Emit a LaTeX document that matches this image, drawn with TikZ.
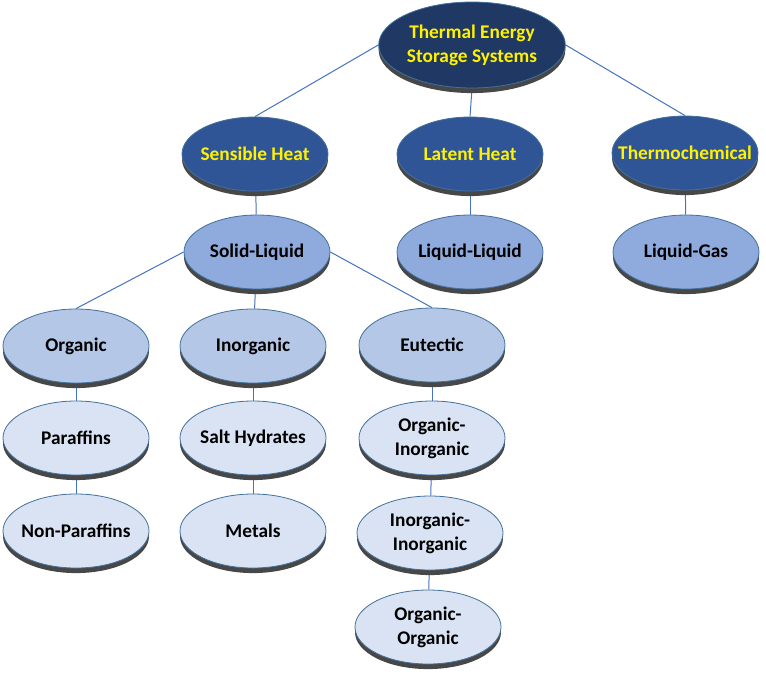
\documentclass[tikz,border=0pt]{standalone}
\usepackage{fontspec}
\setmainfont{Carlito}
\usepackage{tikz}
\usetikzlibrary{shapes.geometric, shadows, backgrounds}
\definecolor{navy}{HTML}{1F3864}
\definecolor{midblue}{HTML}{2F5597}
\definecolor{skyblue}{HTML}{8FAADC}
\definecolor{paleblue}{HTML}{B4C7E7}
\definecolor{iceblue}{HTML}{DAE3F3}
\definecolor{rimblue}{HTML}{41719C}
\definecolor{linkblue}{HTML}{4472C4}
\tikzset{
  disc/.style={ellipse, draw=rimblue, line width=0.6pt, inner xsep=-20pt, inner ysep=0pt,
    minimum width=109.5pt, minimum height=55.5pt, align=center,
    font=\fontsize{14.5}{18}\selectfont\bfseries,
    drop shadow={shadow xshift=0pt, shadow yshift=-3.8pt, fill=black!72, opacity=1}},
  topdisc/.style={disc, fill=navy, text=yellow, minimum width=140pt, minimum height=64.5pt},
  catdisc/.style={disc, fill=midblue, text=yellow},
  subdisc/.style={disc, fill=skyblue},
  typedisc/.style={disc, fill=paleblue},
  leafdisc/.style={disc, fill=iceblue},
  link/.style={draw=linkblue, line width=0.75pt}
}

\begin{document}
\begin{tikzpicture}[x=0.75pt, y=-0.75pt]
  \useasboundingbox (0,0) rectangle (766,678);

  \node[topdisc] (TES) at (472,45) {Thermal Energy\\Storage Systems};

  \node[catdisc] (SENS) at (255,154) {Sensible Heat};
  \node[catdisc] (LAT) at (470,154) {Latent Heat};
  \node[catdisc] (THERMO) at (685,153) {Thermochemical};

  \node[subdisc] (SL) at (257,252) {Solid-Liquid};
  \node[subdisc] (LL) at (470,252) {Liquid-Liquid};
  \node[subdisc] (LG) at (686,252) {Liquid-Gas};

  \node[typedisc] (ORG) at (76,346) {Organic};
  \node[typedisc] (INORG) at (253,346) {Inorganic};
  \node[typedisc] (EUT) at (432,345) {Eutectic};

  \node[leafdisc] (PAR) at (76,438) {Paraffins};
  \node[leafdisc] (SALT) at (253,438) {Salt Hydrates};
  \node[leafdisc] (OI) at (432,438) {Organic-\\Inorganic};

  \node[leafdisc] (NPAR) at (76,531) {Non-Paraffins};
  \node[leafdisc] (MET) at (253,531) {Metals};
  \node[leafdisc] (II) at (430,533) {Inorganic-\\Inorganic};

  \node[leafdisc] (OO) at (428,627) {Organic-\\Organic};

  \begin{scope}[on background layer]
    \draw[link] (TES.west) -- (SENS.north);
    \draw[link] (TES.south) -- (LAT.north);
    \draw[link] (TES.east) -- (THERMO.north);
    \draw[link] (SENS) -- (SL);
    \draw[link] (LAT) -- (LL);
    \draw[link] (THERMO) -- (LG);
    \draw[link] (SL.west) -- (ORG.north);
    \draw[link] (SL) -- (INORG);
    \draw[link] (SL.east) -- (EUT.north);
    \draw[link] (ORG) -- (PAR);
    \draw[link] (PAR) -- (NPAR);
    \draw[link] (INORG) -- (SALT);
    \draw[link] (SALT) -- (MET);
    \draw[link] (EUT) -- (OI);
    \draw[link] (OI) -- (II);
    \draw[link] (II) -- (OO);
  \end{scope}
\end{tikzpicture}
\end{document}
